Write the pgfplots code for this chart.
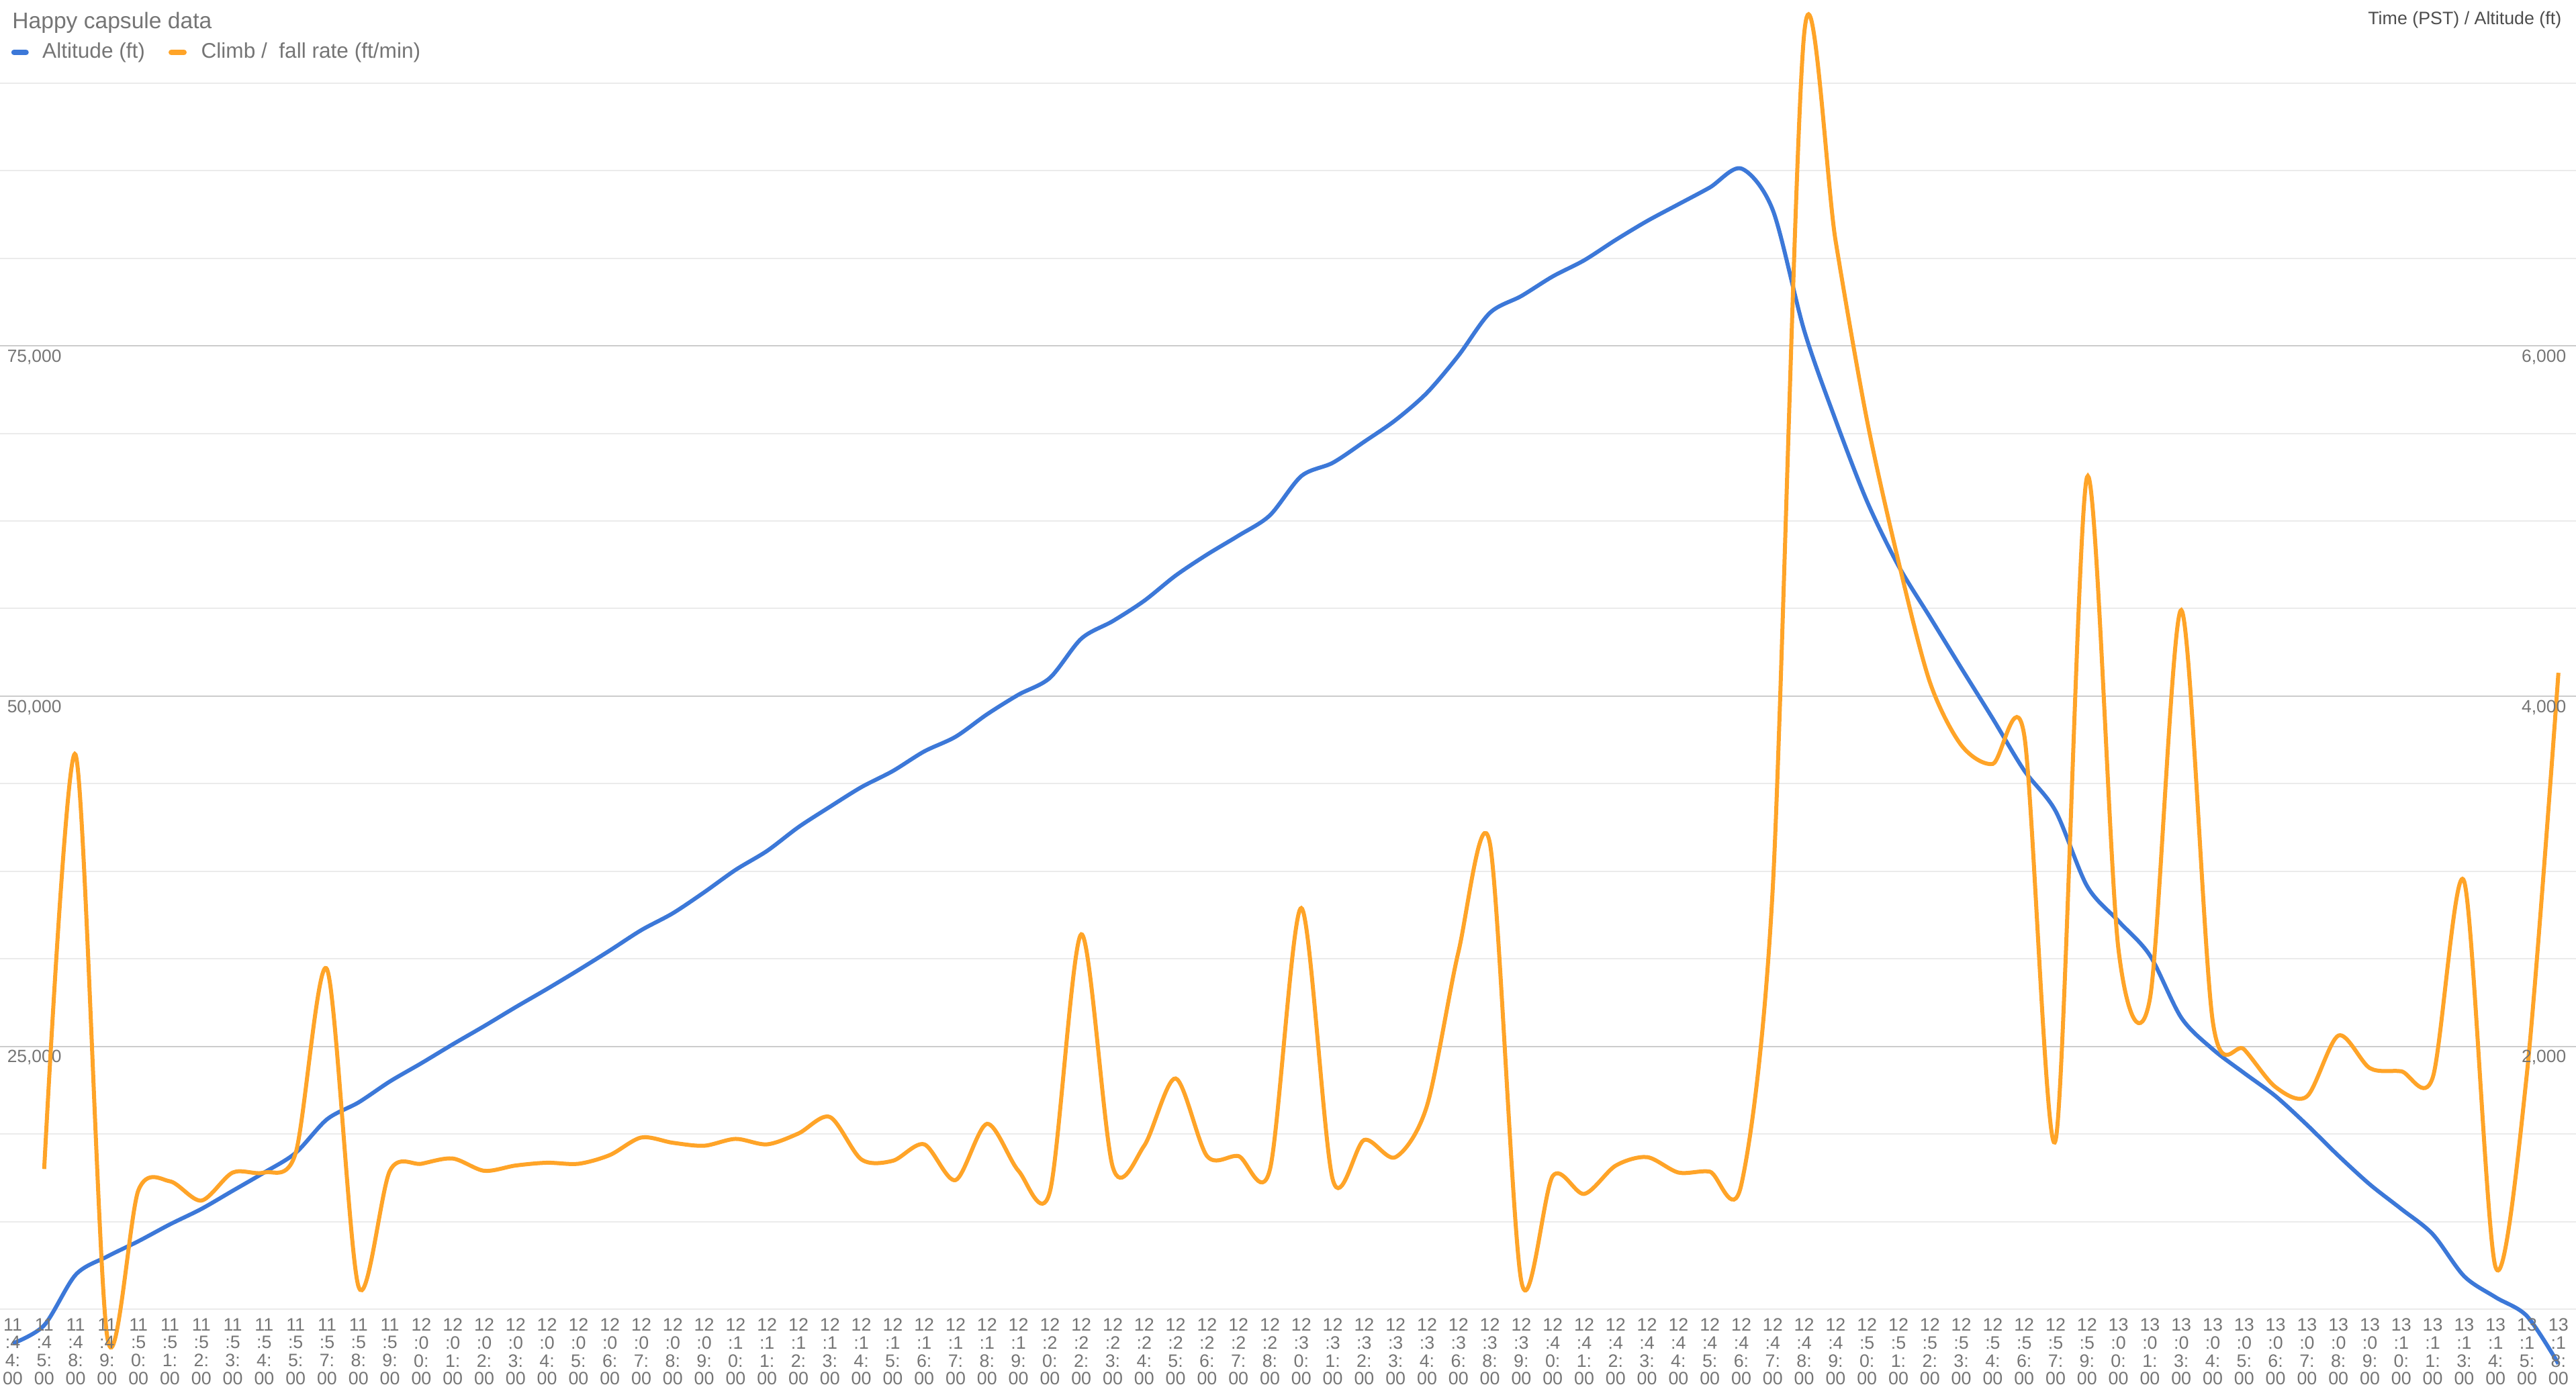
\documentclass[border=0pt]{standalone}
\usepackage{fontspec}
\setmainfont{Liberation Sans}
\usepackage{pgfplots}
\usepackage{pgfplotstable}
\pgfplotsset{compat=1.18}
\definecolor{altblue}{RGB}{60,120,216}
\definecolor{climborange}{RGB}{255,164,40}
\definecolor{gridmaj}{RGB}{204,204,204}
\definecolor{gridmin}{RGB}{235,235,235}
\definecolor{labgray}{RGB}{117,117,117}
\definecolor{darkgray2}{RGB}{77,77,77}
\def\tl#1#2#3#4{#1#2\\:#3\\#4:\\00}

\pgfplotstableread{
i alt climb
1 3800 nan
2 5100 1300
3 8700 3665
4 10000 350
5 11100 1180
6 12300 1230
7 13400 1120
8 14700 1280
9 16000 1280
10 17400 1390
11 19800 2440
12 21000 630
13 22500 1290
14 23800 1330
15 25150 1360
16 26450 1290
17 27800 1320
18 29100 1336
19 30450 1330
20 31850 1380
21 33300 1480
22 34500 1450
23 36000 1433
24 37600 1472
25 38950 1441
26 40650 1503
27 42100 1597
28 43500 1355
29 44650 1347
30 46050 1441
31 47100 1237
32 48700 1558
33 50100 1290
34 51300 1170
35 54100 2640
36 55350 1312
37 56800 1433
38 58600 1817
39 60100 1374
40 61450 1374
41 62900 1296
42 65700 2790
43 66650 1240
44 68150 1466
45 69700 1368
46 71650 1662
47 74300 2540
48 77350 3160
49 78550 660
50 79950 1260
51 81100 1158
52 82550 1319
53 83900 1368
54 85100 1280
55 86300 1285
56 87650 1210
57 84700 2900
58 76100 7780
59 69700 6600
60 63900 5575
61 59300 4770
62 55650 4080
63 52000 3720
64 48400 3613
65 44700 3780
66 41800 1464
67 36450 5250
68 33950 2556
69 31500 2270
70 27050 4491
71 24800 2145
72 23100 1983
73 21450 1768
74 19400 1715
75 17200 2062
76 15150 1876
77 13400 1858
78 11600 1822
79 8600 2943
80 7100 740
81 5750 1850
82 2350 4133
}\capsule

\begin{document}
\begin{tikzpicture}
\pgfplotsset{
  common/.style={
    at={(0pt,-3.625pt)}, anchor=south west,
    width=959pt, height=521.8pt, scale only axis,
    xmin=0.594, xmax=82.56,
    axis line style={draw=none},
    major tick length=0pt, minor tick length=0pt,
    scaled y ticks=false,
    clip=true,
  }
}
\begin{axis}[common,
  ymin=0, ymax=100000,
  xtick=\empty,
  ytick={25000,50000,75000},
  minor ytick={6250,12500,18750,31250,37500,43750,56250,62500,68750,81250,87500,93750},
  ymajorgrids=true, yminorgrids=true,
  major grid style={draw=gridmaj, line width=0.55pt},
  minor grid style={draw=gridmin, line width=0.5pt},
  yticklabel style={anchor=north west, inner sep=0pt, xshift=2.5pt, yshift=-1.25pt,
    font=\fontsize{6.6pt}{7pt}\selectfont, text=labgray,
    /pgf/number format/1000 sep={,}, /pgf/number format/assume math mode=true},
]
\addplot[altblue, line width=1.5pt, smooth, tension=0.5] table[x=i, y=alt] {\capsule};
\end{axis}
\begin{axis}[common,
  ymin=0, ymax=8000,
  axis on top,
  ytick={2000,4000,6000},
  yticklabel pos=right,
  yticklabel style={anchor=north east, inner sep=0pt, xshift=-3.5pt, yshift=-1.25pt,
    font=\fontsize{6.6pt}{7pt}\selectfont, text=labgray,
    /pgf/number format/1000 sep={,}, /pgf/number format/assume math mode=true},
  xtick={1,...,82},
  xticklabels={{\tl1144},{\tl1145},{\tl1148},{\tl1149},{\tl1150},{\tl1151},{\tl1152},{\tl1153},{\tl1154},{\tl1155},{\tl1157},{\tl1158},{\tl1159},
    {\tl1200},{\tl1201},{\tl1202},{\tl1203},{\tl1204},{\tl1205},{\tl1206},{\tl1207},{\tl1208},{\tl1209},{\tl1210},{\tl1211},{\tl1212},{\tl1213},{\tl1214},{\tl1215},{\tl1216},{\tl1217},{\tl1218},{\tl1219},{\tl1220},{\tl1222},{\tl1223},{\tl1224},{\tl1225},{\tl1226},{\tl1227},{\tl1228},{\tl1230},{\tl1231},{\tl1232},{\tl1233},{\tl1234},{\tl1236},{\tl1238},{\tl1239},{\tl1240},{\tl1241},{\tl1242},{\tl1243},{\tl1244},{\tl1245},{\tl1246},{\tl1247},{\tl1248},{\tl1249},{\tl1250},{\tl1251},{\tl1252},{\tl1253},{\tl1254},{\tl1256},{\tl1257},{\tl1259},
    {\tl1300},{\tl1301},{\tl1303},{\tl1304},{\tl1305},{\tl1306},{\tl1307},{\tl1308},{\tl1309},{\tl1310},{\tl1311},{\tl1313},{\tl1314},{\tl1315},{\tl1318}},
  xticklabel style={anchor=north, align=center, inner sep=0pt, yshift=29.4pt,
    font=\fontsize{6.7pt}{6.7pt}\selectfont, text=labgray},
]
\addplot[climborange, line width=1.5pt, smooth, tension=0.5] table[x=i, y=climb] {\capsule};
\end{axis}
% title, legend and axis caption
\node[anchor=base west, inner sep=0pt, text=labgray, font=\fontsize{8.4pt}{10pt}\selectfont] at (4.4pt,505.75pt) {Happy capsule data};
\draw[altblue, line width=2pt, line cap=round] (5.2pt,497pt) -- (9.7pt,497pt);
\node[anchor=base west, inner sep=0pt, text=labgray, font=\fontsize{7.9pt}{9pt}\selectfont] at (15.6pt,494.75pt) {Altitude (ft)};
\draw[climborange, line width=2pt, line cap=round] (63.75pt,497pt) -- (68.5pt,497pt);
\node[anchor=base west, inner sep=0pt, text=labgray, font=\fontsize{7.9pt}{9pt}\selectfont] at (74.7pt,494.75pt) {Climb /\ \ fall rate (ft/min)};
\node[anchor=base east, inner sep=0pt, text=darkgray2, font=\fontsize{6.7pt}{8pt}\selectfont] at (953.75pt,507.3pt) {Time (PST) / Altitude (ft)};
\pgfresetboundingbox
\useasboundingbox (0pt,0pt) rectangle (959pt,516.5pt);
\end{tikzpicture}
\end{document}
